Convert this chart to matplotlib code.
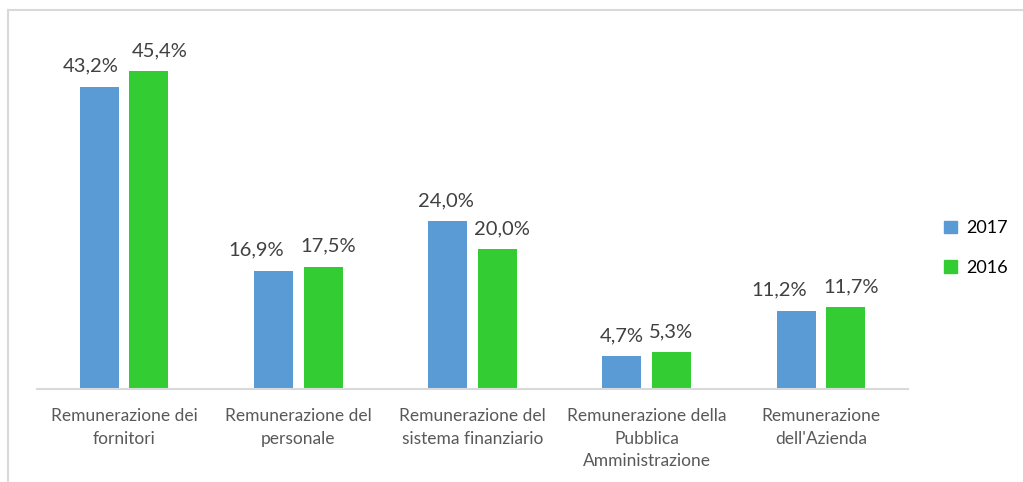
import numpy as np
import matplotlib.pyplot as plt
from matplotlib.lines import Line2D
from matplotlib.patches import Patch

categories = ["Remunerazione dei\nfornitori",
              "Remunerazione del\npersonale",
              "Remunerazione del\nsistema finanziario",
              "Remunerazione della\nPubblica\nAmministrazione",
              "Remunerazione\ndell'Azienda"]
v2017 = [43.2, 16.9, 24.0, 4.7, 11.2]
v2016 = [45.4, 17.5, 20.0, 5.3, 11.7]
years = ["2017", "2016"]

blue = "#5B9BD5"
green = "#33CC33"

# horizontal nudges (pixels) of the value labels, as Excel spreads them apart
nudge_2017 = [-9, -17, -2, 0, -17]
nudge_2016 = [11, 5, 5, 0, 5]

plt.rcParams['font.family'] = ['Lato', 'DejaVu Sans']

fig = plt.figure(figsize=(10.23, 4.82), dpi=100)
ax = fig.add_axes([37 / 1023, 93 / 482, 871 / 1023, 350 / 482])

x = np.arange(len(categories))
w = 0.224
off = 0.142
b1 = ax.bar(x - off, v2017, w, color=blue)
b2 = ax.bar(x + off, v2016, w, color=green)

for bars, vals, nud in ((b1, v2017, nudge_2017), (b2, v2016, nudge_2016)):
    for b, v, n in zip(bars, vals, nud):
        ax.annotate(f"{v:.1f}%".replace(".", ","),
                    (b.get_x() + b.get_width() / 2, b.get_height()),
                    xytext=(n, 12), textcoords="offset pixels",
                    ha="center", va="bottom", fontsize=14.5, color="#404040")

ax.set_xlim(-0.5, len(categories) - 0.5)
ax.set_ylim(0, 50)
ax.set_xticks(x)
ax.set_xticklabels(categories, fontsize=12.5, color="#595959", linespacing=1.5)
ax.tick_params(axis="x", length=0, pad=14)
ax.set_yticks([])
for s in ["top", "right", "left"]:
    ax.spines[s].set_visible(False)
ax.spines["bottom"].set_color("#d9d9d9")
ax.spines["bottom"].set_linewidth(1.5)

# chart border (only top and left edges fall inside the crop)
fig.add_artist(Line2D([8 / 1023, 1.0], [1 - 10 / 482, 1 - 10 / 482],
                      color="#d9d9d9", lw=1.5, transform=fig.transFigure))
fig.add_artist(Line2D([8 / 1023, 8 / 1023], [0, 1 - 10 / 482],
                      color="#d9d9d9", lw=1.5, transform=fig.transFigure))

handles = [Patch(color=blue), Patch(color=green)]
fig.legend(handles, years, loc="center left", bbox_to_anchor=(928 / 1023, 1 - 248 / 482),
           frameon=False, fontsize=13, handlelength=0.7, handleheight=0.7,
           handletextpad=0.5, labelspacing=1.3)

fig.savefig("out.png", dpi=100)
